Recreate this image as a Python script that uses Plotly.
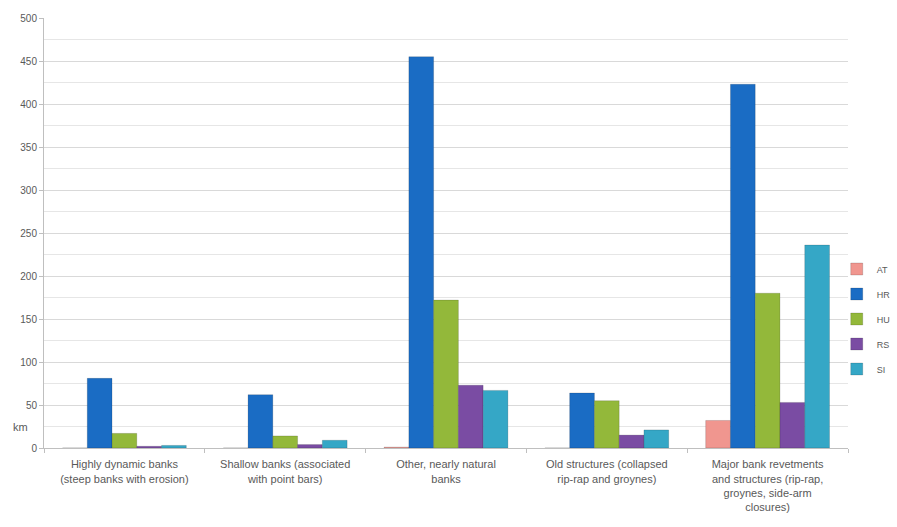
import plotly.graph_objects as go

categories = [
    "Highly dynamic banks<br>(steep banks with erosion)",
    "Shallow banks (associated<br>with point bars)",
    "Other, nearly natural<br>banks",
    "Old structures (collapsed<br>rip-rap and groynes)",
    "Major bank revetments<br>and structures (rip-rap,<br>groynes, side-arm<br>closures)",
]

AT = [0, 0, 1, 0, 32]
HR = [81, 62, 455, 64, 423]
HU = [17, 14, 172, 55, 180]
RS = [2, 4, 73, 15, 53]
SI = [3, 9, 67, 21, 236]

series = [
    ("AT", AT, "#F0968F"),
    ("HR", HR, "#1A6CC4"),
    ("HU", HU, "#93B83A"),
    ("RS", RS, "#7A4CA3"),
    ("SI", SI, "#35A7C6"),
]

fig = go.Figure()
for name, vals, color in series:
    fig.add_trace(go.Bar(
        x=categories, y=vals, name=name, legendgroup=name,
        marker=dict(color=color, line=dict(color="rgba(0,0,0,0.15)", width=1)),
    ))

font_gray = "#595959"
fig.update_layout(
    width=897, height=527,
    margin=dict(l=44, r=49, t=18, b=79, autoexpand=False),
    paper_bgcolor="white", plot_bgcolor="white",
    barmode="group", bargap=0.23, bargroupgap=0,
    font=dict(family="Liberation Sans", size=10, color=font_gray),
    legend=dict(x=0.986, xanchor="left", y=0.30, yanchor="middle",
                font=dict(size=9, color=font_gray),
                itemwidth=30, tracegroupgap=6, bgcolor="rgba(0,0,0,0)"),
    showlegend=True,
)
fig.update_yaxes(
    range=[0, 500], dtick=50, showgrid=True, gridcolor="#D9D9D9",
    minor=dict(dtick=25, showgrid=True, gridcolor="#E6E6E6"),
    showline=True, linecolor="#BFBFBF", ticks="outside", ticklen=4,
    tickcolor="#BFBFBF", zeroline=False,
    tickfont=dict(size=10, color=font_gray),
)
fig.update_xaxes(
    showline=True, linecolor="#BFBFBF", tickson="boundaries",
    ticks="outside", ticklen=4, tickcolor="#BFBFBF",
    ticklabelstandoff=6,
    tickfont=dict(size=11, color=font_gray), tickangle=0,
)
fig.add_annotation(
    text="km", xref="paper", yref="y", x=-0.018, y=25,
    xanchor="right", yanchor="middle", showarrow=False,
    font=dict(size=11, color=font_gray),
)

fig.write_html("out.html")
